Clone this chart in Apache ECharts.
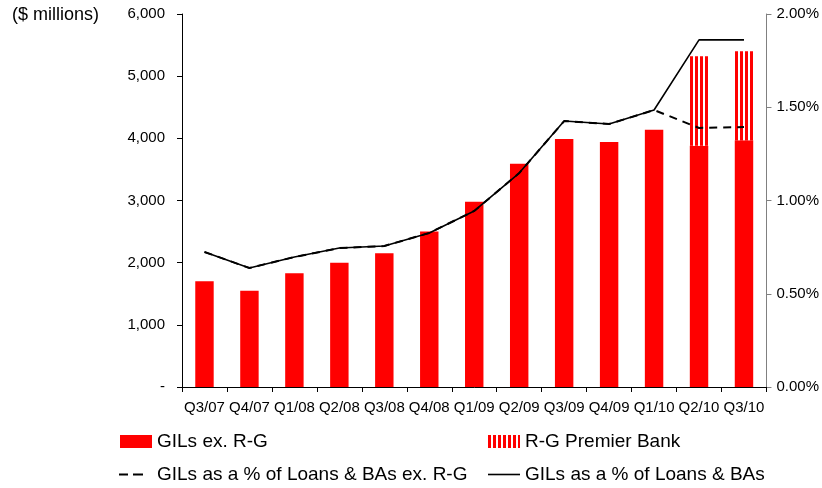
<!DOCTYPE html>
<html>
<head>
<meta charset="utf-8">
<script src="https://cdn.jsdelivr.net/npm/echarts@6/dist/echarts.min.js"></script>
<style>
  html, body { margin: 0; padding: 0; background: #fff; }
  #chart { width: 822px; height: 488px; }
</style>
</head>
<body>
<div id="chart"></div>
<script>
// Quarterly gross impaired loans ($ millions) and ratios (%)
const quarters = ['Q3/07','Q4/07','Q1/08','Q2/08','Q3/08','Q4/08','Q1/09','Q2/09','Q3/09','Q4/09','Q1/10','Q2/10','Q3/10'];
const gilsExRG = [1700, 1550, 1830, 2000, 2150, 2500, 2980, 3590, 3990, 3940, 4140, 3880, 3970];
const rgPremier = [null, null, null, null, null, null, null, null, null, null, null, 1440, 1430];
const pctExRG = [0.724, 0.638, 0.697, 0.745, 0.756, 0.826, 0.944, 1.147, 1.426, 1.410, 1.485, 1.389, 1.394];
const pctAll = [0.724, 0.638, 0.697, 0.745, 0.756, 0.826, 0.944, 1.147, 1.426, 1.410, 1.485, 1.861, 1.861];
const leftTicks = { min: 0, max: 6000, interval: 1000 };
const rightTicks = { min: 0, max: 2, interval: 0.5 };

// vertical red/white stripe fill
const stripe = document.createElement('canvas');
stripe.width = 5; stripe.height = 4;
const sctx = stripe.getContext('2d');
sctx.fillStyle = '#ffffff'; sctx.fillRect(0, 0, 5, 4);
sctx.fillStyle = '#ff0000'; sctx.fillRect(0, 0, 3, 4);

const FONT = 'Liberation Sans, Arial, sans-serif';
const legendText = { fontSize: 19, color: '#000', fontFamily: FONT };
const chart = echarts.init(document.getElementById('chart'), null, { renderer: 'canvas' });

chart.setOption({
  animation: false,
  backgroundColor: '#ffffff',
  textStyle: { fontFamily: FONT },
  grid: { left: 182, right: 54, top: 14, bottom: 101 },
  graphic: [{
    type: 'text', left: 12, top: 6,
    style: { text: '($ millions)', font: '18px ' + FONT, fill: '#000' }
  }],
  legend: [
    { left: 120, top: 432, padding: 0, itemWidth: 32, itemHeight: 13, textStyle: legendText,
      data: [{ name: 'GILs ex. R-G', icon: 'rect' }] },
    { left: 488, top: 432, padding: 0, itemWidth: 32, itemHeight: 13, textStyle: legendText,
      data: [{ name: 'R-G Premier Bank', icon: 'rect' }] },
    { left: 119, top: 465, padding: 0, itemWidth: 33, itemHeight: 2, textStyle: legendText,
      data: [{ name: 'GILs as a % of Loans & BAs ex. R-G',
               icon: 'path://M0,0h9v2h-9z M14,0h10v2h-10z M33,0L33,2Z' }] },
    { left: 488, top: 465, padding: 0, itemWidth: 32, itemHeight: 2, textStyle: legendText,
      data: [{ name: 'GILs as a % of Loans & BAs', icon: 'path://M0,0h32v1.6h-32z' }] }
  ],
  xAxis: {
    type: 'category',
    data: quarters,
    boundaryGap: true,
    axisLine: { lineStyle: { color: '#000', width: 1 } },
    axisTick: { show: true, length: 5, alignWithLabel: false, lineStyle: { color: '#000' } },
    axisLabel: { color: '#000', fontSize: 15, margin: 13, interval: 0, fontFamily: FONT },
    splitLine: { show: false }
  },
  yAxis: [
    {
      type: 'value', position: 'left',
      min: leftTicks.min, max: leftTicks.max, interval: leftTicks.interval,
      axisLine: { show: true, lineStyle: { color: '#000' } },
      axisTick: { show: true, length: 5, lineStyle: { color: '#000' } },
      splitLine: { show: false },
      axisLabel: {
        color: '#000', fontSize: 15, margin: 17, fontFamily: FONT,
        formatter: v => v === 0 ? '-' : v.toLocaleString('en-US')
      }
    },
    {
      type: 'value', position: 'right',
      min: rightTicks.min, max: rightTicks.max, interval: rightTicks.interval,
      axisLine: { show: true, lineStyle: { color: '#808080' } },
      axisTick: { show: true, length: 5, lineStyle: { color: '#808080' } },
      splitLine: { show: false },
      axisLabel: {
        color: '#000', fontSize: 15, margin: 10, fontFamily: FONT,
        formatter: v => v.toFixed(2) + '%'
      }
    }
  ],
  series: [
    {
      name: 'GILs ex. R-G', type: 'bar', stack: 'gil', yAxisIndex: 0,
      data: gilsExRG, barWidth: '41%',
      itemStyle: { color: '#ff0000' }
    },
    {
      name: 'R-G Premier Bank', type: 'bar', stack: 'gil', yAxisIndex: 0,
      data: rgPremier, barWidth: '41%',
      itemStyle: { color: { image: stripe, repeat: 'repeat' } }
    },
    {
      name: 'GILs as a % of Loans & BAs ex. R-G', type: 'line', yAxisIndex: 1,
      data: pctExRG, symbol: 'none', z: 3,
      itemStyle: { color: '#000' },
      lineStyle: { color: '#000', width: 2, type: [8, 6] }
    },
    {
      name: 'GILs as a % of Loans & BAs', type: 'line', yAxisIndex: 1,
      data: pctAll, symbol: 'none', z: 4,
      itemStyle: { color: '#000' },
      lineStyle: { color: '#000', width: 1.6 }
    }
  ]
});
</script>
</body>
</html>
